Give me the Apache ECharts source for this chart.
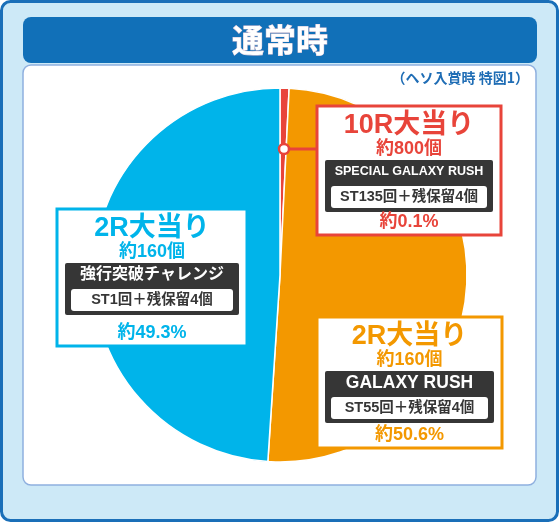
<!DOCTYPE html>
<html>
<head>
<meta charset="utf-8">
<script src="https://cdn.jsdelivr.net/npm/echarts@6/dist/echarts.min.js"></script>
<style>
  html, body { margin: 0; padding: 0; background: #fff; }
  #chart { width: 560px; height: 523px; }
</style>
</head>
<body>
<div id="chart"></div>
<script>
// 各当りの内訳（ヘソ入賞時 特図1）
const titleText = '通常時'
const noteText = '（ヘソ入賞時 特図1）'
const sliceNames = ['10R大当り', '2R大当り', '2R大当り']
const sliceShares = [0.1, 50.6, 49.3]
const payouts = ['約800個', '約160個', '約160個']
const rushNames = ['SPECIAL GALAXY RUSH', 'GALAXY RUSH', '強行突破チャレンジ']
const stTexts = ['ST135回＋残保留4個', 'ST55回＋残保留4個', 'ST1回＋残保留4個']
const sliceColors = ['#e8443a', '#f39800', '#00b4ea']

const FONT = '"Liberation Sans", "Noto Sans CJK JP", sans-serif'
const DARK = '#363636'

// ラベル枠の配置 [x, y, w, h]
const boxes = [
  [317, 106, 184, 129],
  [317, 317, 185, 131],
  [57, 209, 190, 137]
]

function txt(text, x, y, size, color) {
  return {
    type: 'text', z: 20, x: x, y: y,
    style: {
      text: text, fill: color, font: 'bold ' + size + 'px ' + FONT,
      textAlign: 'center', textVerticalAlign: 'middle'
    }
  }
}

function labelBox(i) {
  const b = boxes[i]
  const c = sliceColors[i]
  const cx = b[0] + b[2] / 2
  const y = b[1]
  const rushSize = rushNames[i].length > 12 ? 12.5 : (i === 2 ? 16 : 17.5)
  return [
    { type: 'rect', z: 10, shape: { x: b[0], y: b[1], width: b[2], height: b[3] },
      style: { fill: '#fff', stroke: c, lineWidth: 3 } },
    txt(sliceNames[i], cx, y + 20, 27, c),
    txt(payouts[i], cx, y + 43, 18, c),
    { type: 'rect', z: 12, shape: { x: b[0] + 8, y: y + 54, width: b[2] - 16, height: 52, r: 2 },
      style: { fill: DARK } },
    txt(rushNames[i], cx, y + 66, rushSize, '#fff'),
    { type: 'rect', z: 14, shape: { x: b[0] + 14, y: y + 80, width: b[2] - 28, height: 22, r: 3 },
      style: { fill: '#fff' } },
    txt(stTexts[i], cx, y + 91, 14.5, DARK),
    txt('約' + sliceShares[i] + '%', cx, y + b[3] - 13, 18, c)
  ]
}

const myChart = echarts.init(document.getElementById('chart'))
const option = {
  animation: false,
  graphic: [
    // 外枠
    { type: 'rect', z: 0, shape: { x: 1.5, y: 1.5, width: 556, height: 519, r: 9 },
      style: { fill: '#cde9f7', stroke: '#1a6fb8', lineWidth: 3 } },
    // タイトル帯
    { type: 'rect', z: 1, shape: { x: 23, y: 17, width: 514, height: 46, r: 8 },
      style: { fill: '#1170b8' } },
    { type: 'text', z: 2, x: 280, y: 40,
      style: { text: titleText, fill: '#fff', font: 'bold 32px "Noto Sans CJK JP", sans-serif',
        textAlign: 'center', textVerticalAlign: 'middle', stroke: '#e9c9d6', lineWidth: 0.8 } },
    // 白パネル
    { type: 'rect', z: 1, shape: { x: 23, y: 65, width: 513, height: 420, r: 8 },
      style: { fill: '#fff', stroke: '#8fb0df', lineWidth: 1.5 } },
    { type: 'text', z: 2, x: 529, y: 78,
      style: { text: noteText, fill: '#1f6db5', font: 'bold 14px "Noto Sans CJK JP", sans-serif',
        textAlign: 'right', textVerticalAlign: 'middle' } },
    // 10R 引出線
    { type: 'line', z: 16, shape: { x1: 288, y1: 149, x2: 318, y2: 149 },
      style: { stroke: sliceColors[0], lineWidth: 3 } },
    { type: 'circle', z: 17, shape: { cx: 284, cy: 149, r: 5 },
      style: { fill: '#fff', stroke: sliceColors[0], lineWidth: 2.5 } }
  ].concat(labelBox(0), labelBox(1), labelBox(2)),
  series: [{
    type: 'pie',
    z: 5,
    center: [280, 275],
    radius: [0, 187],
    startAngle: 90,
    clockwise: true,
    minAngle: 2.8,
    silent: true,
    label: { show: false },
    labelLine: { show: false },
    itemStyle: { borderColor: '#fff', borderWidth: 1.5 },
    data: sliceShares.map(function (v, i) {
      return { value: v, name: sliceNames[i], itemStyle: { color: sliceColors[i] } }
    })
  }]
}
myChart.setOption(option)
</script>
</body>
</html>
